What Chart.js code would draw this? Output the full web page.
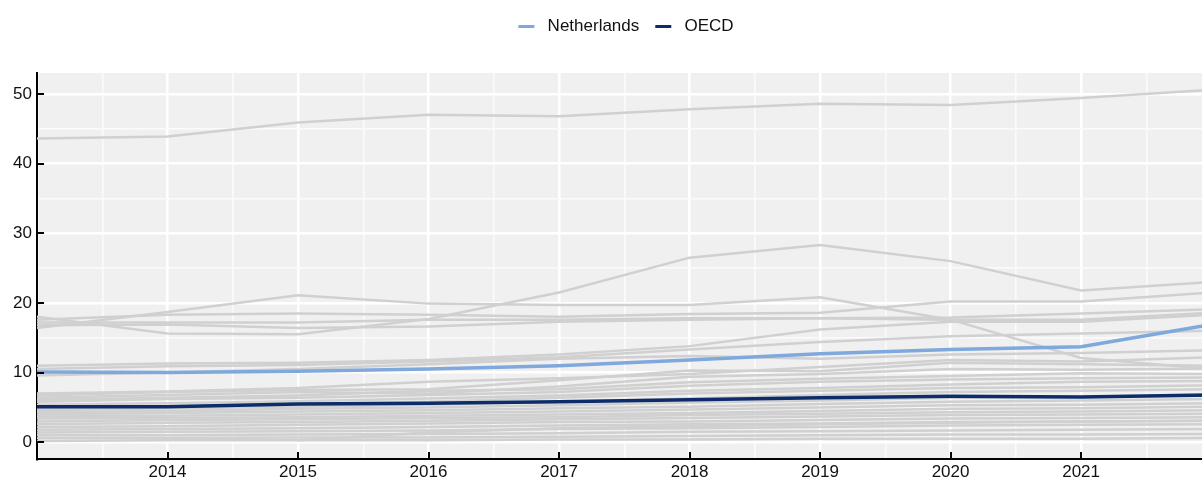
<!DOCTYPE html>
<html>
<head>
<meta charset="utf-8">
<script src="https://cdn.jsdelivr.net/npm/chart.js@4.4.1/dist/chart.umd.min.js"></script>
<style>
html,body{margin:0;padding:0;overflow:hidden;background:#ffffff;width:1202px;height:480px;}
#wrap{width:1252px;height:480px;}
</style>
</head>
<body>
<div id="wrap"><canvas id="c" width="1252" height="480"></canvas></div>
<script>
// ---- data ----
const years = [2013, 2014, 2015, 2016, 2017, 2018, 2019, 2020, 2021, 2022];
const netherlands = [10.1, 10.0, 10.2, 10.5, 11.0, 11.8, 12.7, 13.3, 13.7, 16.9];
const oecd = [5.1, 5.1, 5.5, 5.6, 5.8, 6.1, 6.4, 6.6, 6.5, 6.8];
const otherCountries = [
  [43.6, 43.9, 45.9, 47.0, 46.8, 47.8, 48.6, 48.4, 49.4, 50.6],
  [18.0, 15.6, 15.5, 17.7, 21.5, 26.5, 28.3, 26.0, 21.8, 23.0],
  [16.4, 18.7, 21.1, 19.9, 19.7, 19.7, 20.8, 17.6, 12.1, 10.5],
  [17.6, 18.3, 18.5, 18.3, 18.0, 18.4, 18.6, 20.2, 20.2, 21.5],
  [17.2, 17.2, 17.2, 17.6, 17.6, 17.8, 17.8, 17.9, 18.5, 19.1],
  [16.8, 16.9, 16.4, 16.6, 17.3, 17.6, 17.8, 17.6, 17.6, 18.6],
  [11.0, 11.3, 11.4, 11.8, 12.6, 13.8, 16.2, 17.3, 17.3, 18.3],
  [10.5, 10.9, 11.1, 11.6, 12.2, 13.3, 14.4, 15.2, 15.6, 16.0],
  [9.6, 10.0, 10.5, 11.2, 12.0, 12.4, 12.0, 12.6, 12.8, 13.2],
  [7.0, 7.3, 7.8, 8.7, 9.2, 9.8, 10.8, 11.8, 11.6, 12.2],
  [6.7, 7.2, 7.5, 7.6, 8.9, 10.3, 10.2, 11.4, 11.2, 11.0],
  [6.4, 6.8, 7.2, 7.0, 8.0, 9.4, 9.8, 10.5, 10.4, 10.6],
  [6.1, 6.4, 6.7, 7.4, 7.6, 8.6, 9.1, 9.5, 9.9, 9.8],
  [5.8, 6.2, 6.4, 6.8, 7.2, 8.1, 8.7, 9.0, 9.2, 9.3],
  [5.4, 5.6, 5.9, 6.3, 6.7, 7.4, 7.8, 8.3, 8.7, 8.8],
  [4.9, 5.2, 5.5, 5.8, 6.4, 7.0, 7.4, 7.8, 7.9, 8.2],
  [4.6, 4.9, 5.1, 5.4, 5.8, 6.3, 6.8, 7.2, 7.4, 7.6],
  [4.3, 4.5, 4.8, 5.0, 5.3, 5.7, 6.0, 6.4, 6.5, 6.9],
  [4.0, 4.2, 4.4, 4.6, 4.9, 5.1, 5.5, 5.8, 6.0, 6.2],
  [3.7, 3.8, 4.0, 4.2, 4.4, 4.7, 5.0, 5.3, 5.4, 5.6],
  [3.4, 3.5, 3.6, 3.8, 4.0, 4.2, 4.5, 4.8, 4.9, 5.1],
  [3.0, 3.2, 3.3, 3.5, 3.6, 3.9, 4.1, 4.3, 4.4, 4.6],
  [2.6, 2.8, 2.9, 3.1, 3.3, 3.5, 3.7, 3.9, 4.0, 4.1],
  [2.2, 2.3, 2.5, 2.7, 2.9, 3.0, 3.2, 3.4, 3.5, 3.6],
  [1.8, 1.9, 2.0, 2.2, 2.4, 2.6, 2.7, 2.9, 3.0, 3.1],
  [1.4, 1.5, 1.6, 1.7, 1.9, 2.0, 2.2, 2.4, 2.5, 2.6],
  [1.0, 1.0, 1.1, 1.2, 1.3, 1.5, 1.6, 1.7, 1.8, 1.9],
  [0.6, 0.6, 0.7, 0.7, 0.8, 0.9, 1.0, 1.1, 1.1, 1.2],
  [0.2, 0.3, 0.3, 0.3, 0.4, 0.4, 0.5, 0.5, 0.5, 0.6],
  [null, null, 0.3, 1.4, 2.0, 2.3, 2.6, 2.8, 3.0, 3.1]
];
const seriesNames = ['Netherlands', 'OECD'];
const yTickLabels = [0, 10, 20, 30, 40, 50];
const xTickLabels = [2014, 2015, 2016, 2017, 2018, 2019, 2020, 2021];

// ---- styles ----
const FONT = "'Liberation Sans', Arial, sans-serif";
const NL_COLOR = '#7fa8dc';
const OECD_COLOR = '#0c2d69';
const GREY = '#d0d0d0';

function toPoints(vals) { return years.map((yr, i) => ({ x: yr, y: vals[i] })); }

const datasets = [
  { label: seriesNames[0], data: toPoints(netherlands), borderColor: NL_COLOR, backgroundColor: NL_COLOR, borderWidth: 3.5 },
  { label: seriesNames[1], data: toPoints(oecd), borderColor: OECD_COLOR, backgroundColor: OECD_COLOR, borderWidth: 3.5 }
];
otherCountries.forEach((vals, i) => {
  datasets.push({ label: 'other' + i, data: toPoints(vals), borderColor: GREY, backgroundColor: GREY, borderWidth: 2.5 });
});

const bgPlugin = {
  id: 'plotBg',
  beforeDraw(chart) {
    const { ctx, chartArea: a } = chart;
    ctx.save();
    ctx.fillStyle = '#f0f0f0';
    ctx.fillRect(a.left, a.top, a.right - a.left, a.bottom - a.top);
    ctx.restore();
  }
};

const innerTicks = {
  id: 'innerTicks',
  afterDatasetsDraw(chart) {
    const { ctx, chartArea: a, scales } = chart;
    ctx.save();
    ctx.strokeStyle = '#000';
    ctx.lineWidth = 2;
    ctx.beginPath();
    yTickLabels.forEach(v => {
      const y = Math.round(scales.y.getPixelForValue(v));
      ctx.moveTo(a.left, y); ctx.lineTo(a.left + 7, y);
    });
    xTickLabels.forEach(v => {
      const x = Math.round(scales.x.getPixelForValue(v));
      ctx.moveTo(x, a.bottom); ctx.lineTo(x, a.bottom - 7);
    });
    ctx.stroke();
    ctx.restore();
  }
};

const legendSpace = {
  id: 'legendSpace',
  beforeInit(chart) {
    const orig = chart.legend.fit;
    chart.legend.fit = function () { orig.bind(chart.legend)(); this.height += 28; };
  }
};

new Chart(document.getElementById('c'), {
  type: 'line',
  data: { datasets },
  plugins: [bgPlugin, innerTicks, legendSpace],
  options: {
    responsive: false,
    animation: false,
    devicePixelRatio: 1,
    layout: { padding: { top: 2, left: 0, right: 0, bottom: 0 } },
    elements: { point: { radius: 0 }, line: { tension: 0 } },
    plugins: {
      tooltip: { enabled: false },
      legend: {
        position: 'top',
        labels: {
          font: { family: FONT, size: 17 },
          color: '#111',
          boxWidth: 16,
          boxHeight: 3,
          padding: 16,
          generateLabels(chart) {
            return Chart.defaults.plugins.legend.labels.generateLabels(chart)
              .filter(l => seriesNames.includes(l.text))
              .map(l => Object.assign(l, { text: ' ' + l.text, lineWidth: 0, strokeStyle: 'rgba(0,0,0,0)' }));
          }
        }
      }
    },
    scales: {
      x: {
        type: 'linear',
        min: 2013, max: 2022,
        afterFit(s) { s.height = 21; s.paddingRight = 40.4; s.paddingLeft = 0; },
        border: { display: true, color: '#000', width: 2 },
        grid: {
          drawTicks: false,
          color: c => (c.tick && Number.isInteger(c.tick.value)) ? '#ffffff' : '#fbfbfb',
          lineWidth: c => (c.tick && Number.isInteger(c.tick.value)) ? 2.5 : 1.5
        },
        ticks: {
          stepSize: 0.5,
          autoSkip: false,
          maxRotation: 0,
          includeBounds: false,
          padding: 3,
          font: { family: FONT, size: 17 },
          color: '#111',
          callback: v => xTickLabels.includes(v) ? String(v) : ''
        }
      },
      y: {
        min: -2.4, max: 53,
        afterFit(s) { s.width = 37; },
        border: { display: true, color: '#000', width: 2 },
        grid: {
          drawTicks: false,
          color: c => (c.tick && c.tick.value % 10 === 0) ? '#ffffff' : '#fbfbfb',
          lineWidth: c => (c.tick && c.tick.value % 10 === 0) ? 2.5 : 1.5
        },
        ticks: {
          stepSize: 5,
          includeBounds: false,
          padding: 5,
          font: { family: FONT, size: 17 },
          color: '#111',
          callback: v => yTickLabels.includes(v) ? String(v) : ''
        }
      }
    }
  }
});
</script>
</body>
</html>
